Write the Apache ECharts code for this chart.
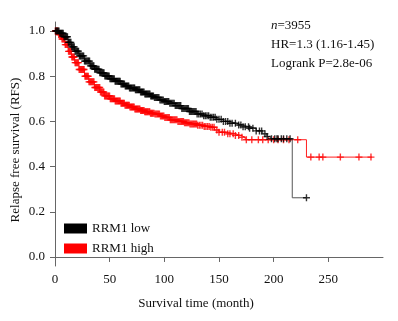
<!DOCTYPE html>
<html>
<head>
<meta charset="utf-8">
<script src="https://cdn.jsdelivr.net/npm/echarts@6/dist/echarts.min.js"></script>
<style>
html,body{margin:0;padding:0;background:#fff;}
#chart{width:398px;height:321px;}
</style>
</head>
<body>
<div id="chart"></div>
<script>
// ---- data ----
var lowTimes = [0,4,8,12,15,18,22,27,32,36,41,45,50,55,60,64,68,73,78,82,87,91,96,100,105,110,116,123,130,136,142,148,154,160,166,172,178,184,190,194,197,217,230];
var lowSurv  = [1.0,0.99,0.975,0.95,0.93,0.911,0.89,0.867,0.846,0.831,0.815,0.801,0.789,0.778,0.766,0.757,0.748,0.74,0.73,0.721,0.712,0.706,0.695,0.688,0.68,0.67,0.657,0.644,0.633,0.625,0.618,0.609,0.6,0.592,0.584,0.576,0.57,0.558,0.545,0.533,0.523,0.262,0.262];
var highTimes = [0,3,6,9,12,15,18,22,27,31,36,41,45,50,55,60,64,68,73,78,82,87,91,96,100,105,112,118,123,130,136,142,146,150,158,165,170,174,230,290];
var highSurv  = [1.0,0.985,0.965,0.94,0.91,0.885,0.86,0.83,0.80,0.775,0.75,0.73,0.713,0.70,0.69,0.68,0.672,0.664,0.655,0.648,0.643,0.636,0.633,0.624,0.617,0.607,0.6,0.594,0.589,0.583,0.578,0.574,0.562,0.552,0.545,0.538,0.53,0.519,0.442,0.442];
var lowCensor = [0.5,1.3,2.1,2.9,3.6,4.4,5.2,6,6.7,7.5,8.3,9.1,9.8,10.6,11.4,12.2,13,13.7,14.5,15.3,16.1,16.8,17.6,18.4,19.2,20,20.7,21.5,22.3,23.1,23.8,24.6,25.4,26.2,27,27.7,28.5,29.3,30.1,30.8,31.6,32.4,33.2,34,34.7,35.5,36.3,37.1,37.8,38.6,39.4,40.2,41,41.7,42.5,43.3,44.1,44.8,45.6,46.4,47.2,48,48.7,49.5,50.3,51.1,51.8,52.6,53.4,54.2,55,55.7,56.5,57.3,58.1,58.8,59.6,60.4,61.2,62,62.7,63.5,64.3,65.1,65.8,66.6,67.4,68.2,69,69.7,70.5,71.3,72.1,72.8,73.6,74.4,75.2,76,76.7,77.5,78.3,79.1,79.8,80.6,81.4,82.2,83,83.7,84.5,85.3,86.1,86.8,87.6,88.4,89.2,90,91,92,93,94,95,96,97,98,99,100,101,102,103,104,105,106,107,108,109,110,111,112,113,114,115,116,117,118,119,120,121,122,123,124,125,126,127,128,129,130,131.5,133,134.5,136,137.5,139,140.5,142,143.5,145,146.5,148,150,152,154,156,158,160,162,165,168,170,172,174,177,178,181,184,187,189,192,194,198,201,203,204,207,209,212,215,230];
var highCensor = [0.4,1.1,1.9,2.6,3.4,4.1,4.9,5.6,6.4,7.1,7.9,8.6,9.4,10.1,10.9,11.6,12.4,13.1,13.9,14.6,15.4,16.1,16.9,17.6,18.4,19.1,19.9,20.6,21.4,22.1,22.9,23.6,24.4,25.1,25.9,26.6,27.4,28.1,28.9,29.6,30.4,31.1,31.9,32.6,33.4,34.1,34.9,35.6,36.4,37.1,37.9,38.6,39.4,40.1,40.9,41.6,42.4,43.1,43.9,44.6,45.4,46.1,46.9,47.6,48.4,49.1,49.9,50.6,51.4,52.1,52.9,53.6,54.4,55.1,55.9,56.6,57.4,58.1,58.9,59.6,60.4,61.1,61.9,62.6,63.4,64.1,64.9,65.6,66.4,67.1,67.9,68.6,69.4,70.1,70.9,71.6,72.4,73.1,73.9,74.6,75.4,76.1,76.9,77.6,78.4,79.1,79.9,80.6,81.4,82.1,82.9,83.6,84.4,85.1,85.9,86.6,87.4,88.1,88.9,89.6,90.5,91.5,92.5,93.5,94.5,95.5,96.5,97.5,98.5,99.5,100.5,101.5,102.5,103.5,104.5,105.5,106.5,107.5,108.5,109.5,110.5,111.5,112.5,113.5,114.5,115.5,116.5,117.5,118.5,119.5,120.5,121.5,122.5,123.5,124.5,125.5,126.5,127.5,128.5,129.5,130.5,132,133.5,135,136.5,138,139.5,141,142.5,144,145.5,148,150,153,155,158,160,163,165,168,171,175,180,186,190,195,200,204,209,214,222,234,241.6,245,261,278,289];
var xTicks = [0,50,100,150,200,250];
var yTicks = [0,0.2,0.4,0.6,0.8,1.0];
var seriesNames = ['RRM1 low','RRM1 high'];
var statLines = ['{i|n}=3955','HR=1.3 (1.16-1.45)','Logrank P=2.8e-06'];

function zip(t,s){ return t.map(function(v,i){ return [v,s[i]]; }); }
function stepAt(t,s,c){ var v=s[0]; for(var i=0;i<t.length;i++){ if(t[i]<=c) v=s[i]; } return v; }
function censorPts(ct,t,s){ return ct.map(function(c){ return [c, stepAt(t,s,c)]; }); }

var FONT = '"Liberation Serif","Times New Roman",serif';
var plus = 'path://M4,0H6V4H10V6H6V10H4V6H0V4H4Z';

var chart = echarts.init(document.getElementById('chart'), null, {renderer:'canvas'});
chart.setOption({
  animation:false,
  backgroundColor:'#fff',
  grid:{left:55,right:15,top:22,bottom:55,containLabel:false,outerBoundsMode:'none'},
  title: statLines.map(function(s,i){
    return {text:s, left:271, top:19+i*19, padding:0,
      textStyle:{fontFamily:FONT,fontSize:13,fontWeight:'normal',color:'#111',
        rich:{i:{fontStyle:'italic',fontFamily:FONT,fontSize:13,color:'#111'}}}};
  }),
  legend:{
    data:seriesNames, orient:'vertical', left:64, top:222, itemWidth:23, itemHeight:10, itemGap:7,
    icon:'rect', padding:0, selectedMode:false,
    textStyle:{fontFamily:FONT,fontSize:13,color:'#111',padding:[0,0,0,0]}
  },
  xAxis:{
    type:'value', min:0, max:300,
    name:'Survival time (month)', nameLocation:'middle', nameGap:31, nameMoveOverlap:false,
    nameTextStyle:{fontFamily:FONT,fontSize:13,color:'#111',padding:[0,46,0,0]},
    axisLine:{show:true,lineStyle:{color:'#666',width:1}},
    axisTick:{show:true,length:5,lineStyle:{color:'#666'},customValues:xTicks},
    axisLabel:{fontFamily:FONT,fontSize:13,color:'#111',margin:7,customValues:xTicks},
    splitLine:{show:false}
  },
  yAxis:{
    type:'value', min:-0.04, max:1.04,
    name:'Relapse free survival (RFS)', nameLocation:'middle', nameGap:33, nameRotate:90, nameMoveOverlap:false,
    nameTextStyle:{fontFamily:FONT,fontSize:13,color:'#111',padding:[0,12,0,0]},
    axisLine:{show:true,lineStyle:{color:'#666',width:1}},
    axisTick:{show:true,length:5,lineStyle:{color:'#666'},customValues:yTicks},
    axisLabel:{fontFamily:FONT,fontSize:13,color:'#111',margin:10,customValues:yTicks,
      formatter:function(v){return v.toFixed(1);}},
    splitLine:{show:false}
  },
  series:[
    {name:seriesNames[0], type:'line', step:'end', data:zip(lowTimes,lowSurv), showSymbol:false,
      color:'#000', lineStyle:{color:'#555',width:1}, z:3},
    {name:seriesNames[1], type:'line', step:'end', data:zip(highTimes,highSurv), showSymbol:false,
      color:'#ff0000', lineStyle:{color:'#ff2020',width:1}, z:2},
    {name:'lowCensor', type:'scatter', data:censorPts(lowCensor,lowTimes,lowSurv), symbol:plus, symbolSize:7,
      itemStyle:{color:'#000'}, z:3},
    {name:'highCensor', type:'scatter', data:censorPts(highCensor,highTimes,highSurv), symbol:plus, symbolSize:7,
      itemStyle:{color:'#ff0000'}, z:2}
  ]
});
</script>
</body>
</html>
